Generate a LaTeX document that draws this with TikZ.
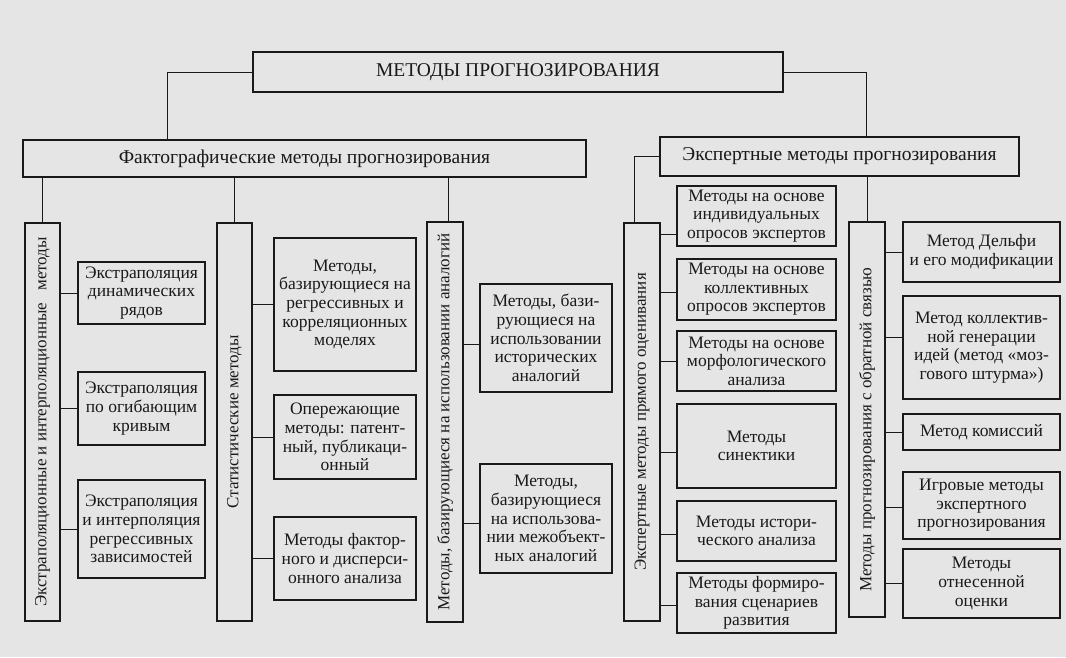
\documentclass[tikz,border=0pt]{standalone}
\usepackage{fontspec}
\setmainfont{Liberation Serif}
\definecolor{bg}{rgb}{0.9,0.9,0.9}
\definecolor{ink}{rgb}{0.1,0.1,0.1}
\newcommand\fsbox{\fontsize{17.5pt}{18.6pt}\selectfont}
\newcommand\fshead{\fontsize{19.5pt}{21pt}\selectfont}
\newcommand\fscol{\fontsize{17pt}{18pt}\selectfont}
\tikzset{
  box/.style={draw=ink, line width=1.4pt, fill=bg, inner sep=0pt, align=center, text=ink, font=\fsbox},
  link/.style={draw=ink, line width=0.9pt},
  coltext/.style={rotate=90, text=ink, font=\fscol, inner sep=0pt}
}
% \mybox{name}{x1}{y1}{x2}{y2}{text}
\newcommand\mybox[6]{\node[box, minimum width={(#4-#2)*1pt}, minimum height={(#5-#3)*1pt}] (#1) at ({(#2+#4)/2},{(#3+#5)/2}) {#6};}
% \conn{parent}{child}{yoffset}
\newcommand\conn[3]{\coordinate (tmp) at ([yshift=#3pt]#2.west); \draw[link] (tmp) -- (tmp -| #1.east);}
\begin{document}
\begin{tikzpicture}[x=1pt,y=-1pt]
\fill[bg] (0,0) rectangle (1066,657);
\useasboundingbox (0,0) rectangle (1066,657);

% top level
\mybox{top}{253}{52}{783}{92}{\fshead МЕТОДЫ ПРОГНОЗИРОВАНИЯ}
\mybox{fakto}{23}{140}{586}{177}{\fshead Фактографические методы прогнозирования}
\mybox{expert}{660}{137}{1019}{176}{\fshead Экспертные методы прогнозирования}

% columns
\mybox{c1}{25}{223}{60}{621}{}
\mybox{c2}{217}{223}{252}{621}{}
\mybox{c3}{427}{222}{463}{622}{}
\mybox{c4}{624}{223}{660}{621}{}
\mybox{c5}{849}{222}{885}{617}{}
\node[coltext] (t1) at (c1) {Экстраполяционные и интерполяционные\hspace{0.7em}методы};
\node[coltext] (t2) at (c2) {Статистические методы};
\node[coltext] (t3) at (c3) {Методы, базирующиеся на использовании аналогий};
\node[coltext] (t4) at (c4) {Экспертные методы прямого оценивания};
\node[coltext] (t5) at ([yshift=-10pt]c5.center) {Методы прогнозирования с обратной связью};

% connectors between levels
\draw[link] (top.west) -| ([xshift=145pt]fakto.north west);
\draw[link] (top.east) -| ([xshift=207pt]expert.north west);
\draw[link] (expert.west) -| ([xshift=11pt]c4.north west);
\draw[link] (c5.north) -- (c5.north |- expert.south);
\draw[link] (c1.north) -- (c1.north |- fakto.south);
\draw[link] (c2.north) -- (c2.north |- fakto.south);
\draw[link] ([xshift=3pt]c3.north) -- ([xshift=3pt]c3.north |- fakto.south);

% column 1
\mybox{c1a}{78}{262}{205}{324}{Экстраполяция\\динамических\\рядов}
\mybox{c1b}{78}{372}{205}{445}{Экстраполяция\\по огибающим\\кривым}
\mybox{c1c}{78}{480}{205}{578}{Экстраполяция\\и интерполяция\\регрессивных\\зависимостей}
% column 2
\mybox{c2a}{274}{238}{416}{371}{Методы,\\базирующиеся на\\регрессивных и\\корреляционных\\моделях}
\mybox{c2b}{274}{395}{416}{479}{Опережающие\\методы: патент-\\ный, публикаци-\\онный}
\mybox{c2c}{274}{517}{416}{600}{Методы фактор-\\ного и дисперси-\\онного анализа}
% column 3
\mybox{c3a}{480}{284}{612}{392}{Методы, бази-\\рующиеся на\\использовании\\исторических\\аналогий}
\mybox{c3b}{480}{464}{612}{573}{Методы,\\базирующиеся\\на использова-\\нии межобъект-\\ных аналогий}
% column 4
\mybox{c4a}{677}{186}{836}{246}{Методы на основе\\индивидуальных\\опросов экспертов}
\mybox{c4b}{677}{259}{836}{320}{Методы на основе\\коллективных\\опросов экспертов}
\mybox{c4c}{677}{331}{836}{391}{Методы на основе\\морфологического\\анализа}
\mybox{c4d}{677}{404}{836}{488}{Методы\\синектики}
\mybox{c4e}{677}{501}{836}{561}{Методы истори-\\ческого анализа}
\mybox{c4f}{677}{573}{836}{633}{Методы формиро-\\вания сценариев\\развития}
% column 5
\mybox{c5a}{903}{222}{1060}{282}{Метод Дельфи\\и его модификации}
\mybox{c5b}{903}{296}{1060}{399}{Метод коллектив-\\ной генерации\\идей (метод «моз-\\гового штурма»)}
\mybox{c5c}{903}{414}{1060}{450}{Метод комиссий}
\mybox{c5d}{903}{472}{1060}{539}{Игровые методы\\экспертного\\прогнозирования}
\mybox{c5e}{903}{549}{1060}{618}{Методы\\отнесенной\\оценки}

% child connectors
\conn{c1}{c1a}{0}
\conn{c1}{c1b}{0}
\conn{c1}{c1c}{0}
\conn{c2}{c2a}{0}
\conn{c2}{c2b}{0}
\conn{c2}{c2c}{0}
\conn{c3}{c3a}{-6}
\conn{c3}{c3b}{-4.5}
\conn{c4}{c4a}{-18}
\conn{c4}{c4b}{-2.5}
\conn{c4}{c4c}{0}
\conn{c4}{c4d}{-6}
\conn{c4}{c4e}{-3}
\conn{c4}{c4f}{-2}
\conn{c5}{c5a}{0}
\conn{c5}{c5b}{10.5}
\conn{c5}{c5c}{0}
\conn{c5}{c5d}{-1.5}
\conn{c5}{c5e}{0}
\end{tikzpicture}
\end{document}
